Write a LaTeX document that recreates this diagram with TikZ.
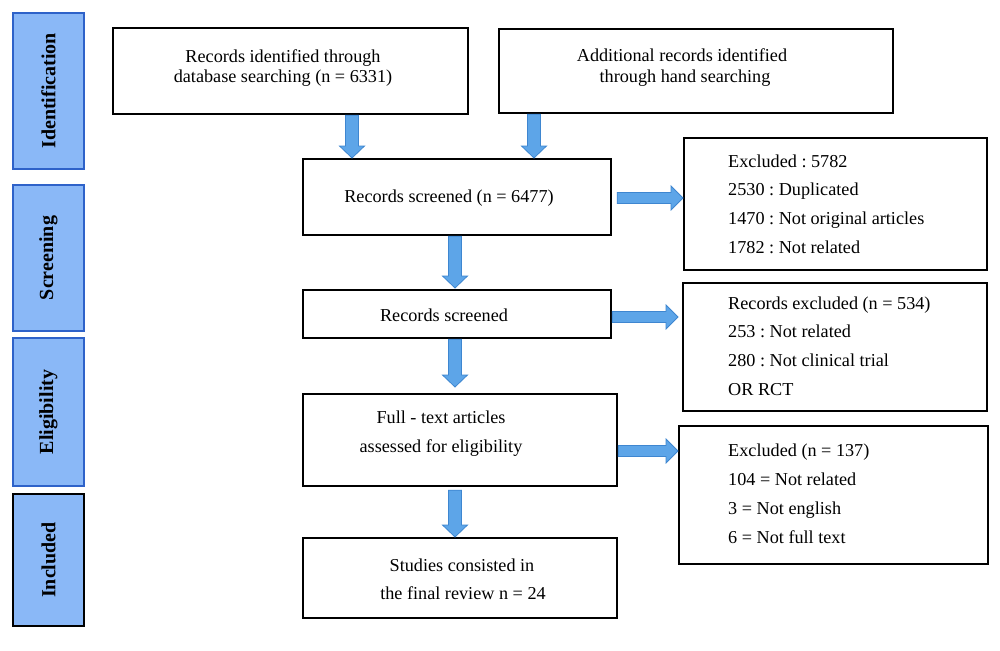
\documentclass[tikz,border=0pt]{standalone}
\usepackage{fontspec}
\setmainfont{Liberation Serif}
\usetikzlibrary{calc}
\definecolor{sidefill}{HTML}{8AB8F7}
\definecolor{sideline}{HTML}{2E62C9}
\definecolor{arrfill}{HTML}{5DA5E8}
\definecolor{arrline}{HTML}{3E86D0}
\frenchspacing
\tikzset{
  box/.style={draw=black, line width=2.2pt, inner sep=0pt, anchor=north west},
  side/.style={draw=sideline, fill=sidefill, line width=2pt, inner sep=0pt, anchor=north west, minimum width=71pt},
  sidetext/.style={rotate=90, font=\fontsize{20}{20}\selectfont\bfseries, inner sep=0pt},
  txt/.style={font=\fontsize{18.2}{20}\selectfont\frenchspacing, inner sep=0pt, anchor=base},
  ltxt/.style={font=\fontsize{18.2}{20}\selectfont\frenchspacing, inner sep=0pt, anchor=base west},
  blk/.style={fill=arrfill, draw=arrline, line width=0.8pt, line join=miter},
}
% vertical block arrow: from #1 down to #2 (same x)
\newcommand\blkdown[2]{\path[blk] let \p1=#1, \p2=#2 in
  (\x1-6.5pt,\y1) -- (\x1-6.5pt,\y2+12pt) -- (\x1-12.5pt,\y2+12pt) -- (\x1,\y2)
  -- (\x1+12.5pt,\y2+12pt) -- (\x1+6.5pt,\y2+12pt) -- (\x1+6.5pt,\y1) -- cycle;}
% horizontal block arrow: from #1 right to #2 (same y)
\newcommand\blkright[2]{\path[blk] let \p1=#1, \p2=#2 in
  (\x1,\y1-5.5pt) -- (\x2-12pt,\y1-5.5pt) -- (\x2-12pt,\y1-12pt) -- (\x2,\y1)
  -- (\x2-12pt,\y1+12pt) -- (\x2-12pt,\y1+5.5pt) -- (\x1,\y1+5.5pt) -- cycle;}
\begin{document}
\begin{tikzpicture}[x=1pt,y=-1pt]
\useasboundingbox[fill=white] (0,0) rectangle (1000,650);

% side phase boxes
\node[side, minimum height=156pt] (S1) at (12,12) {};
\node[side, minimum height=146pt] (S2) at (12,184) {};
\node[side, minimum height=148pt] (S3) at (12,337) {};
\node[side, draw=black, minimum height=132pt] (S4) at (12,493) {};
\node[sidetext] (S1t) at (S1.center) {Identification};
\node[sidetext] (S2t) at (S2.center) {Screening};
\node[sidetext] (S3t) at (S3.center) {Eligibility};
\node[sidetext] (S4t) at (S4.center) {Included};

% main boxes
\node[box, minimum width=355pt, minimum height=86pt] (A) at (112,27) {};
\node[box, minimum width=394pt, minimum height=84pt] (B) at (498,28) {};
\node[box, minimum width=308pt, minimum height=76pt] (C) at (302,158) {};
\node[box, minimum width=303pt, minimum height=132pt] (D) at (683,137) {};
\node[box, minimum width=308pt, minimum height=48pt] (E) at (302,289) {};
\node[box, minimum width=304pt, minimum height=128pt] (F) at (682,282) {};
\node[box, minimum width=314pt, minimum height=92pt] (G) at (302,393) {};
\node[box, minimum width=309pt, minimum height=138pt] (H) at (678,425) {};
\node[box, minimum width=314pt, minimum height=80pt] (I) at (302,537) {};

% texts
\node[txt] (A1) at (283,63) {Records identified through};
\node[txt] (A2) at (283,83) {database searching (n = 6331)};
\node[txt] (B1) at (682,62) {Additional records identified};
\node[txt] (B2) at (685,83) {through hand searching};
\node[txt] (C1) at (449,202) {Records screened (n = 6477)};
\node[ltxt] (D1) at (728,167) {Excluded : 5782};
\node[ltxt] (D2) at (728,195) {2530 : Duplicated};
\node[ltxt] (D3) at (728,224) {1470 : Not original articles};
\node[ltxt] (D4) at (728,253) {1782 : Not related};
\node[txt] (E1) at (444,321) {Records screened};
\node[ltxt] (F1) at (728,309) {Records excluded (n = 534)};
\node[ltxt] (F2) at (728,337) {253 : Not related};
\node[ltxt] (F3) at (728,366) {280 : Not clinical trial};
\node[ltxt] (F4) at (728,395) {OR RCT};
\node[txt] (G1) at (441,423) {Full - text articles};
\node[txt] (G2) at (441,452) {assessed for eligibility};
\node[ltxt] (H1) at (728,456) {Excluded (n = 137)};
\node[ltxt] (H2) at (728,485) {104 = Not related};
\node[ltxt] (H3) at (728,514) {3 = Not english};
\node[ltxt] (H4) at (728,543) {6 = Not full text};
\node[txt] (I1) at (462,571) {Studies consisted in};
\node[txt] (I2) at (463,599) {the final review n = 24};

% connectors
\coordinate (a1) at ($(A.south west)+(240,0)$);
\coordinate (b1) at ($(B.south west)+(36,0)$);
\coordinate (c1) at ($(C.south west)+(153,0)$);
\coordinate (e1) at ($(E.south west)+(153,0)$);
\coordinate (g1) at ($(G.south west)+(153,3)$);
\blkdown{(a1)}{(a1 |- C.north)}
\blkdown{(b1)}{(b1 |- C.north)}
\blkdown{(c1)}{($(c1 |- E.north)+(0,-1)$)}
\blkdown{(e1)}{($(e1 |- G.north)+(0,-6)$)}
\blkdown{(g1)}{(g1 |- I.north)}

\coordinate (c2) at ($(C.north east)+(5,40)$);
\coordinate (e2) at ($(E.north east)+(0,28)$);
\coordinate (g2) at ($(G.north east)+(0,58)$);
\blkright{(c2)}{(c2 -| D.west)}
\blkright{(e2)}{($(e2 -| F.west)+(-4,0)$)}
\blkright{(g2)}{(g2 -| H.west)}
\end{tikzpicture}
\end{document}
